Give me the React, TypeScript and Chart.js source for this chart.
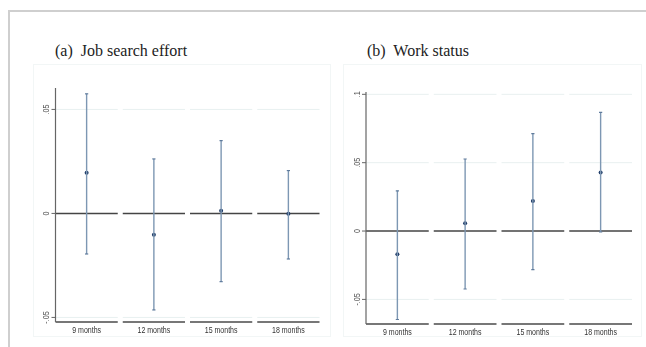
import React, { useEffect, useRef } from "react";
import { Chart, registerables } from "chart.js";
Chart.register(...registerables);

const categories = ["9 months", "12 months", "15 months", "18 months"];
const effortEst = [0.0195, -0.0103, 0.0013, -0.0002];
const effortLo = [-0.0195, -0.0464, -0.0328, -0.0219];
const effortHi = [0.0575, 0.0262, 0.035, 0.0206];
const workEst = [-0.0169, 0.0057, 0.022, 0.0429];
const workLo = [-0.0647, -0.0424, -0.0282, -0.0007];
const workHi = [0.0294, 0.0527, 0.0713, 0.0868];
const effortTicks = [-0.05, 0, 0.05];
const effortTickLabels = ["-.05", "0", ".05"];
const workTicks = [-0.05, 0, 0.05, 0.1];
const workTickLabels = ["-.05", "0", ".05", ".1"];

const W = 646;
const H = 347;

type PanelSpec = {
  est: number[];
  lo: number[];
  hi: number[];
  ticks: number[];
  tickLabels: string[];
  left: number;
  right: number;
  top: number;
  bottom: number;
  min: number;
  max: number;
};

const panelA: PanelSpec = {
  est: effortEst, lo: effortLo, hi: effortHi,
  ticks: effortTicks, tickLabels: effortTickLabels,
  left: 53, right: 322, top: 88, bottom: 322, min: -0.0522, max: 0.0603,
};
const panelB: PanelSpec = {
  est: workEst, lo: workLo, hi: workHi,
  ticks: workTicks, tickLabels: workTickLabels,
  left: 363.5, right: 634.5, top: 92, bottom: 324, min: -0.068, max: 0.1017,
};

const sans = "'Liberation Sans', Arial, sans-serif";

function makeChart(canvas: HTMLCanvasElement, p: PanelSpec) {
  const gap = 2.5;
  const framePlugin = {
    id: "stataFrame",
    beforeDatasetsDraw(chart: any) {
      const { ctx, chartArea } = chart;
      const x = chart.scales.x;
      const y = chart.scales.y;
      ctx.save();
      for (let i = 0; i < categories.length; i++) {
        const x0 = x.getPixelForValue(i + 0.5) + gap;
        const x1 = x.getPixelForValue(i + 1.5) - gap;
        p.ticks.forEach((t) => {
          if (t === 0) return;
          const py = y.getPixelForValue(t);
          ctx.strokeStyle = "#e8f0f0";
          ctx.lineWidth = 1;
          ctx.beginPath();
          ctx.moveTo(x0, py);
          ctx.lineTo(x1, py);
          ctx.stroke();
        });
        const pz = y.getPixelForValue(0);
        ctx.strokeStyle = "#444";
        ctx.lineWidth = 1.5;
        ctx.beginPath();
        ctx.moveTo(x0, pz);
        ctx.lineTo(x1, pz);
        ctx.stroke();
        ctx.strokeStyle = "#4a4a4a";
        ctx.lineWidth = 1.7;
        ctx.beginPath();
        ctx.moveTo(x0, chartArea.bottom);
        ctx.lineTo(x1, chartArea.bottom);
        ctx.stroke();
        // category label, condensed like the reference
        const cx = x.getPixelForValue(i + 1);
        ctx.save();
        ctx.translate(cx, chartArea.bottom + 8.5);
        ctx.scale(0.78, 1);
        ctx.font = "9px " + sans;
        ctx.fillStyle = "#333";
        ctx.textAlign = "center";
        ctx.textBaseline = "middle";
        ctx.fillText(categories[i], 0, 0);
        ctx.restore();
      }
      const ax = x.getPixelForValue(0.5) + gap;
      ctx.strokeStyle = "#666";
      ctx.lineWidth = 1.2;
      ctx.beginPath();
      ctx.moveTo(ax, chartArea.top);
      ctx.lineTo(ax, chartArea.bottom);
      ctx.stroke();
      ctx.font = "8.5px " + sans;
      ctx.fillStyle = "#555";
      ctx.textAlign = "center";
      ctx.textBaseline = "middle";
      p.ticks.forEach((t, k) => {
        const py = y.getPixelForValue(t);
        ctx.strokeStyle = "#666";
        ctx.lineWidth = 1;
        ctx.beginPath();
        ctx.moveTo(ax - 4, py);
        ctx.lineTo(ax, py);
        ctx.stroke();
        ctx.save();
        ctx.translate(ax - 8.5, py);
        ctx.rotate(-Math.PI / 2);
        ctx.scale(0.85, 1);
        ctx.fillText(p.tickLabels[k], 0, 0);
        ctx.restore();
      });
      ctx.restore();
    },
  };

  const ciSets = categories.map((_, i) => ({
    type: "scatter" as const,
    data: [
      { x: i + 1, y: p.lo[i] },
      { x: i + 1, y: p.hi[i] },
    ],
    showLine: true,
    borderColor: "#7d97b3",
    borderWidth: 1.4,
    pointStyle: "line" as const,
    pointRadius: 1.6,
    pointBorderColor: "#5f7b9c",
    pointBorderWidth: 1.2,
    pointHoverRadius: 0,
  }));
  const estSet = {
    type: "scatter" as const,
    data: categories.map((_, i) => ({ x: i + 1, y: p.est[i] })),
    showLine: false,
    pointStyle: "circle" as const,
    pointRadius: 2,
    pointBackgroundColor: "#1d3a66",
    pointBorderColor: "#1d3a66",
    pointBorderWidth: 0,
  };

  return new Chart(canvas, {
    type: "scatter",
    data: { datasets: [...ciSets, estSet] as any },
    options: {
      animation: false,
      responsive: false,
      events: [],
      layout: {
        padding: { left: p.left, right: W - p.right, top: p.top, bottom: 0 },
      },
      plugins: { legend: { display: false }, tooltip: { enabled: false }, title: { display: false } },
      scales: {
        x: {
          type: "linear",
          min: 0.5,
          max: 4.5,
          afterBuildTicks: (s: any) => {
            s.ticks = categories.map((_, i) => ({ value: i + 1 }));
          },
          afterFit: (s: any) => {
            s.height = H - p.bottom;
          },
          grid: { display: false },
          border: { display: false },
          ticks: { display: false },
        },
        y: {
          type: "linear",
          display: false,
          min: p.min,
          max: p.max,
        },
      },
    },
    plugins: [framePlugin],
  } as any);
}

function Panel({ spec }: { spec: PanelSpec }) {
  const ref = useRef<HTMLCanvasElement | null>(null);
  useEffect(() => {
    if (!ref.current) return;
    const c = makeChart(ref.current, spec);
    return () => c.destroy();
  }, [spec]);
  return (
    <canvas
      ref={ref}
      width={W}
      height={H}
      style={{ position: "absolute", left: 0, top: 0, width: W, height: H }}
    />
  );
}

const titleStyle: React.CSSProperties = {
  position: "absolute",
  fontFamily: "'Liberation Serif', 'DejaVu Serif', serif",
  fontSize: 16,
  color: "#222",
  whiteSpace: "pre",
  lineHeight: "20px",
};

export default function App() {
  return (
    <div style={{ position: "absolute", left: 0, top: 0, width: W, height: H, background: "#fff", overflow: "hidden" }}>
      <div style={{ position: "absolute", left: 8, top: 10, width: W, height: H, borderTop: "2px solid #cfcfcf", borderLeft: "2px solid #cfcfcf" }} />
      <div style={{ position: "absolute", left: 33, top: 64, width: 298, height: 273, border: "1px solid #f2f6f6", boxSizing: "border-box" }} />
      <div style={{ position: "absolute", left: 343, top: 64, width: 299, height: 273, border: "1px solid #f2f6f6", boxSizing: "border-box" }} />
      <div style={{ ...titleStyle, left: 55, top: 41 }}>(a)  Job search effort</div>
      <div style={{ ...titleStyle, left: 367, top: 41 }}>(b)  Work status</div>
      <Panel spec={panelA} />
      <Panel spec={panelB} />
    </div>
  );
}
